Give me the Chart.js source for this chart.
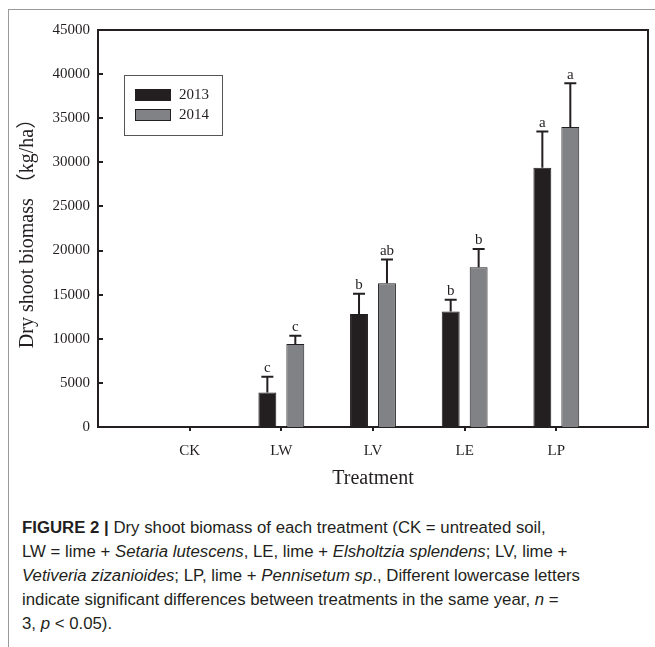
<!DOCTYPE html>
<html>
<head>
<meta charset="utf-8">
<script src="https://cdn.jsdelivr.net/npm/chart.js@4.4.1/dist/chart.umd.min.js"></script>
<style>
    body { margin: 0; background: #fff; width: 655px; height: 647px; overflow: hidden; position: relative; }
    #frame { position: absolute; left: 8px; top: 9px; width: 660px; height: 660px; border-left: 1px solid #9a9a9a; border-top: 1px solid #9a9a9a; }
    #chart { position: absolute; left: 0; top: 0; }
    #caption { position: absolute; left: 22px; top: 516px; font-family: "Liberation Sans", Arial, sans-serif; font-size: 16.8px; line-height: 24px; color: #231f20; white-space: nowrap; }
    #caption b { font-weight: bold; }
</style>
</head>
<body>
<div id="frame"></div>
<canvas id="chart" width="655" height="500"></canvas>
<div id="caption">
    <b>FIGURE 2 |</b> Dry shoot biomass of each treatment (CK = untreated soil,<br>
    LW = lime + <i>Setaria lutescens</i>, LE, lime + <i>Elsholtzia splendens</i>; LV, lime +<br>
    <i>Vetiveria zizanioides</i>; LP, lime + <i>Pennisetum sp</i>., Different lowercase letters<br>
    indicate significant differences between treatments in the same year, <i>n</i> =<br>
    3, <i>p</i> &lt; 0.05).
</div>
<script>
    const categories = ["CK", "LW", "LV", "LE", "LP"];
    const years = ["2013", "2014"];
    const values2013 = [null, 3900, 12800, 13100, 29400];
    const values2014 = [null, 9400, 16300, 18100, 34000];
    const errors2013 = [null, 1800, 2300, 1330, 4100];
    const errors2014 = [null, 950, 2680, 2070, 4950];
    const letters2013 = ["", "c", "b", "b", "a"];
    const letters2014 = ["", "c", "ab", "b", "a"];
    const yTicks = [0, 5000, 10000, 15000, 20000, 25000, 30000, 35000, 40000, 45000];

    const ink = "#231f20";
    const serif = "'Liberation Serif', 'Times New Roman', 'Noto Sans CJK SC', serif";

    // blank slot on each side so the categories sit at 1..5 of 0..6
    const labels = ["", ...categories, ""];
    const pad = arr => [null, ...arr, null];

    const errs = [pad(errors2013), pad(errors2014)];
    const lets = [pad(letters2013), pad(letters2014)];

    const extras = {
        id: "extras",
        afterDatasetsDraw(chart) {
            const { ctx, chartArea: a, scales: { y } } = chart;
            ctx.save();
            ctx.strokeStyle = ink;
            ctx.fillStyle = ink;

            // frame top/right
            ctx.lineWidth = 2;
            ctx.beginPath();
            ctx.moveTo(a.left, a.top);
            ctx.lineTo(a.right, a.top);
            ctx.lineTo(a.right, a.bottom);
            ctx.stroke();

            // inward y ticks
            yTicks.forEach(v => {
                const py = Math.round(y.getPixelForValue(v));
                ctx.beginPath();
                ctx.moveTo(a.left, py);
                ctx.lineTo(a.left + 5, py);
                ctx.stroke();
            });

            // error bars + letters
            ctx.font = "15px " + serif;
            ctx.textAlign = "center";
            ctx.textBaseline = "bottom";
            chart.data.datasets.forEach((ds, di) => {
                const meta = chart.getDatasetMeta(di);
                meta.data.forEach((bar, i) => {
                    const v = ds.data[i];
                    if (v == null) return;
                    const top = y.getPixelForValue(v + errs[di][i]);
                    ctx.lineWidth = 2;
                    ctx.beginPath();
                    ctx.moveTo(bar.x, bar.y);
                    ctx.lineTo(bar.x, top);
                    ctx.moveTo(bar.x - 6, top);
                    ctx.lineTo(bar.x + 6, top);
                    ctx.stroke();
                    ctx.fillText(lets[di][i], bar.x, top - 1);
                });
            });

            // legend box
            ctx.lineWidth = 1;
            ctx.strokeStyle = "#555";
            ctx.strokeRect(124.5, 75.5, 98, 60);
            ctx.font = "15px " + serif;
            ctx.textAlign = "left";
            ctx.textBaseline = "middle";
            chart.data.datasets.forEach((ds, di) => {
                const sy = 89 + di * 20;
                ctx.fillStyle = ds.backgroundColor;
                ctx.fillRect(135, sy, 36, 12);
                ctx.strokeStyle = ink;
                ctx.strokeRect(135.5, sy + 0.5, 35, 11);
                ctx.fillStyle = ink;
                ctx.fillText(ds.label, 179, sy + 6);
            });
            ctx.restore();
        }
    };

    new Chart(document.getElementById("chart"), {
        type: "bar",
        data: {
            labels,
            datasets: [
                { label: years[0], data: pad(values2013), backgroundColor: "#231f20", borderColor: ink, borderWidth: 1 },
                { label: years[1], data: pad(values2014), backgroundColor: "#808285", borderColor: ink, borderWidth: 1 }
            ]
        },
        options: {
            responsive: false,
            animation: false,
            devicePixelRatio: 1,
            categoryPercentage: 0.61,
            barPercentage: 0.64,
            layout: { padding: { top: 30, right: 7, left: 0, bottom: 0 } },
            plugins: { legend: { display: false }, tooltip: { enabled: false } },
            scales: {
                x: {
                    offset: false,
                    afterFit: s => { s.height = 73; s.paddingLeft = 0; s.paddingRight = 0; },
                    grid: {
                        offset: false,
                        drawOnChartArea: false,
                        drawTicks: true,
                        tickLength: 4,
                        lineWidth: 2,
                        color: c => (c.tick && c.tick.label ? ink : "rgba(0,0,0,0)")
                    },
                    border: { display: true, color: ink, width: 2 },
                    ticks: { color: ink, font: { family: serif, size: 15 }, padding: 11, maxRotation: 0, autoSkip: false },
                    title: { display: true, text: "Treatment", color: ink, font: { family: serif, size: 20 }, padding: { top: 0, bottom: 9 } }
                },
                y: {
                    min: 0,
                    max: 45000,
                    afterFit: s => { s.width = 98; },
                    afterBuildTicks: s => { s.ticks = yTicks.map(v => ({ value: v })); },
                    grid: { display: false },
                    border: { display: true, color: ink, width: 2 },
                    ticks: { color: ink, font: { family: serif, size: 15 }, padding: 0, callback: v => String(v) },
                    title: { display: true, text: "Dry shoot biomass （kg/ha）", color: ink, font: { family: serif, size: 20 }, padding: { top: 16, bottom: 0 } }
                }
            }
        },
        plugins: [extras]
    });
</script>
</body>
</html>
